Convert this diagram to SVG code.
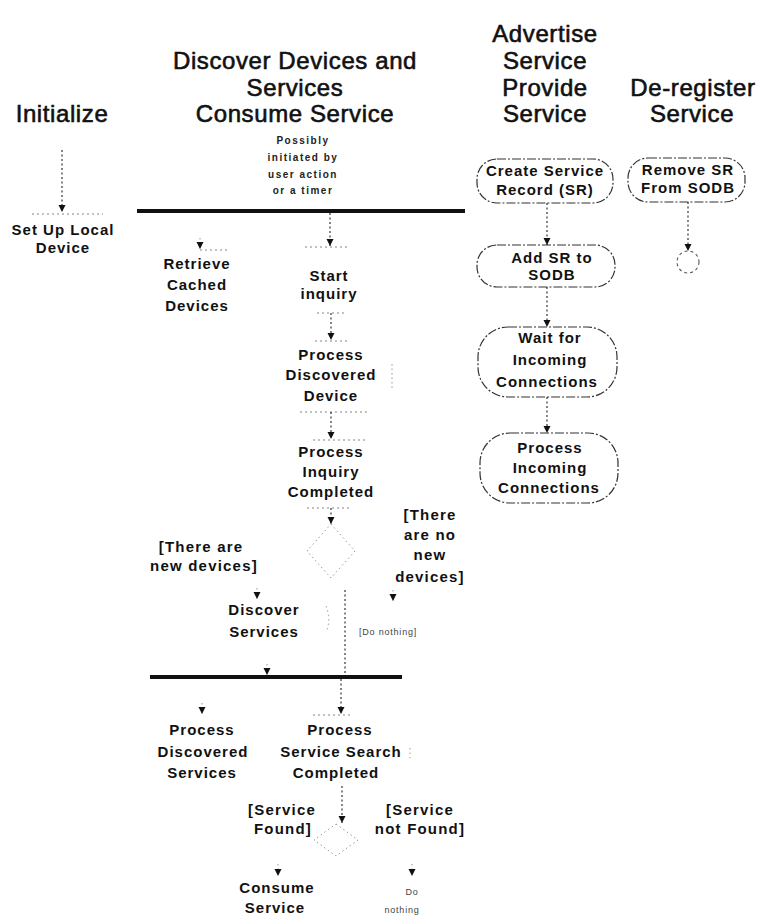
<svg xmlns="http://www.w3.org/2000/svg" width="761" height="920" viewBox="0 0 761 920">
  <style>
    text { font-family: "Liberation Sans", Arial, sans-serif; font-weight: bold; fill: #111; text-anchor: middle; }
    .hdr { font-size: 24px; font-weight: normal; letter-spacing: 0.6px; stroke: #111; stroke-width: 0.6; }
    .node { font-size: 15px; letter-spacing: 1px; }
    .guard { font-size: 15px; letter-spacing: 1.2px; }
    .note { font-size: 10px; letter-spacing: 1.5px; fill: #222; }
    .tiny { font-size: 9px; letter-spacing: 0.8px; fill: #444; font-weight: normal; }
    .flow { fill: none; stroke: #222; stroke-width: 1.1; stroke-dasharray: 2 2.5; }
    .faint { fill: none; stroke: #999; stroke-width: 1; stroke-dasharray: 1.5 3; }
    .edge { fill: none; stroke: #777; stroke-width: 0.9; stroke-dasharray: 2 3; }
    .box { fill: none; stroke: #333; stroke-width: 1.2; stroke-dasharray: 9 2 2 2; }
    .bar { fill: #111; }
  </style>
  <defs>
    <marker id="arrow" markerUnits="userSpaceOnUse" markerWidth="8" markerHeight="8" refX="7" refY="4" orient="auto">
      <path d="M0,0.5 L7,4 L0,7.5 z" fill="#111"/>
    </marker>
  </defs>

  <!-- swimlane headings -->
  <g id="headings">
    <text class="hdr" x="62" y="122">Initialize</text>
    <text class="hdr" x="295" y="69">Discover Devices and</text>
    <text class="hdr" x="295" y="96">Services</text>
    <text class="hdr" x="295" y="122">Consume Service</text>
    <text class="hdr" x="545" y="42">Advertise</text>
    <text class="hdr" x="545" y="69">Service</text>
    <text class="hdr" x="545" y="96">Provide</text>
    <text class="hdr" x="545" y="122">Service</text>
    <text class="hdr" x="693" y="96">De-register</text>
    <text class="hdr" x="692" y="122">Service</text>
  </g>

  <!-- trigger note above the fork -->
  <g id="note-trigger">
    <text class="note" x="303" y="144">Possibly</text>
    <text class="note" x="303" y="161">initiated by</text>
    <text class="note" x="303" y="178">user action</text>
    <text class="note" x="303" y="194">or a timer</text>
  </g>

  <!-- synchronisation bars -->
  <g id="fork-discover"><rect class="bar" x="137" y="209" width="328" height="4"/></g>
  <g id="join-services"><rect class="bar" x="150" y="675" width="252" height="4"/></g>

  <!-- Initialize lane -->
  <g id="node-setup">
    <line class="edge" x1="32" y1="214" x2="103" y2="214"/>
    <text class="node" x="63" y="235">Set Up Local</text>
    <text class="node" x="63" y="253">Device</text>
  </g>

  <!-- Discover lane -->
  <g id="node-retrieve">
    <line class="edge" x1="200" y1="250" x2="228" y2="250"/>
    <text class="node" x="197" y="269">Retrieve</text>
    <text class="node" x="197" y="290">Cached</text>
    <text class="node" x="197" y="311">Devices</text>
  </g>
  <g id="node-start">
    <line class="edge" x1="305" y1="247" x2="350" y2="247"/>
    <text class="node" x="329" y="281">Start</text>
    <text class="node" x="329" y="299">inquiry</text>
    <line class="edge" x1="317" y1="313" x2="347" y2="313"/>
  </g>
  <g id="node-device">
    <line class="edge" x1="315" y1="341" x2="348" y2="341"/>
    <text class="node" x="331" y="360">Process</text>
    <text class="node" x="331" y="380">Discovered</text>
    <text class="node" x="331" y="401">Device</text>
    <line class="edge" x1="300" y1="412" x2="367" y2="412"/>
    <line class="faint" x1="392" y1="364" x2="392" y2="390"/>
  </g>
  <g id="node-inquiry-done">
    <line class="edge" x1="313" y1="440" x2="367" y2="440"/>
    <text class="node" x="331" y="457">Process</text>
    <text class="node" x="331" y="477">Inquiry</text>
    <text class="node" x="331" y="497">Completed</text>
    <line class="edge" x1="307" y1="508" x2="350" y2="508"/>
  </g>
  <g id="decision-devices">
    <path class="faint" d="M331,524 L355,551 L331,578 L307,551 Z"/>
  </g>
  <g id="node-discover-services">
    <text class="node" x="264" y="615">Discover</text>
    <text class="node" x="264" y="637">Services</text>
    <path class="faint" d="M326,606 Q331,618 327,630"/>
  </g>
  <g id="node-do-nothing-1">
    <text class="tiny" x="388" y="635">[Do nothing]</text>
  </g>
  <g id="node-process-services">
    <text class="node" x="202" y="735">Process</text>
    <text class="node" x="203" y="757">Discovered</text>
    <text class="node" x="202" y="778">Services</text>
  </g>
  <g id="node-search-done">
    <line class="edge" x1="313" y1="715" x2="350" y2="715"/>
    <text class="node" x="340" y="735">Process</text>
    <text class="node" x="341" y="757">Service Search</text>
    <text class="node" x="336" y="778">Completed</text>
    <line class="faint" x1="410" y1="748" x2="410" y2="758"/>
  </g>
  <g id="decision-service">
    <path class="faint" d="M336,824 L358,840 L336,856 L314,840 Z"/>
  </g>
  <g id="node-consume">
    <text class="node" x="277" y="893">Consume</text>
    <text class="node" x="275" y="913">Service</text>
  </g>
  <g id="node-do-nothing-2">
    <text class="tiny" x="412" y="895">Do</text>
    <text class="tiny" x="402" y="913">nothing</text>
  </g>

  <!-- guard labels -->
  <g id="guards">
    <text class="guard" x="201" y="552">[There are</text>
    <text class="guard" x="204" y="571">new devices]</text>
    <text class="guard" x="430" y="520">[There</text>
    <text class="guard" x="430" y="540">are no</text>
    <text class="guard" x="430" y="560">new</text>
    <text class="guard" x="430" y="582">devices]</text>
    <text class="guard" x="282" y="815">[Service</text>
    <text class="guard" x="283" y="834">Found]</text>
    <text class="guard" x="420" y="815">[Service</text>
    <text class="guard" x="420" y="834">not Found]</text>
  </g>

  <!-- Advertise / Provide lane -->
  <g id="node-create-sr">
    <rect class="box" x="477" y="159" width="136" height="44" rx="20"/>
    <text class="node" x="545" y="176">Create Service</text>
    <text class="node" x="545" y="195">Record (SR)</text>
  </g>
  <g id="node-add-sr">
    <rect class="box" x="477" y="245" width="138" height="42" rx="20"/>
    <text class="node" x="552" y="263">Add SR to</text>
    <text class="node" x="552" y="280">SODB</text>
  </g>
  <g id="node-wait">
    <rect class="box" x="478" y="327" width="139" height="70" rx="30"/>
    <text class="node" x="550" y="343">Wait for</text>
    <text class="node" x="550" y="365">Incoming</text>
    <text class="node" x="547" y="387">Connections</text>
  </g>
  <g id="node-process-conn">
    <rect class="box" x="480" y="433" width="138" height="70" rx="30"/>
    <text class="node" x="550" y="453">Process</text>
    <text class="node" x="550" y="473">Incoming</text>
    <text class="node" x="549" y="493">Connections</text>
  </g>

  <!-- De-register lane -->
  <g id="node-remove-sr">
    <rect class="box" x="628" y="158" width="117" height="44" rx="20"/>
    <text class="node" x="688" y="175">Remove SR</text>
    <text class="node" x="688" y="193">From SODB</text>
  </g>
  <g id="final-deregister">
    <circle cx="688" cy="262" r="11" fill="none" stroke="#555" stroke-width="1.1" stroke-dasharray="3 3"/>
  </g>

  <!-- control flows -->
  <g id="connectors">
    <line class="flow" x1="62" y1="150" x2="62" y2="212" marker-end="url(#arrow)"/>
    <line class="flow" x1="330" y1="213" x2="330" y2="246" marker-end="url(#arrow)"/>
    <line class="faint" x1="200" y1="238" x2="200" y2="249" marker-end="url(#arrow)"/>
    <line class="flow" x1="331" y1="313" x2="331" y2="340" marker-end="url(#arrow)"/>
    <line class="flow" x1="331" y1="412" x2="331" y2="439" marker-end="url(#arrow)"/>
    <line class="flow" x1="331" y1="508" x2="331" y2="524" marker-end="url(#arrow)"/>
    <line class="faint" x1="257" y1="588" x2="257" y2="599" marker-end="url(#arrow)"/>
    <line class="faint" x1="393" y1="590" x2="393" y2="601" marker-end="url(#arrow)"/>
    <line class="flow" x1="345" y1="590" x2="345" y2="674"/>
    <line class="faint" x1="267" y1="664" x2="267" y2="675" marker-end="url(#arrow)"/>
    <line class="flow" x1="341" y1="679" x2="341" y2="714" marker-end="url(#arrow)"/>
    <line class="faint" x1="202" y1="703" x2="202" y2="714" marker-end="url(#arrow)"/>
    <line class="flow" x1="342" y1="786" x2="342" y2="823" marker-end="url(#arrow)"/>
    <line class="faint" x1="278" y1="864" x2="278" y2="876" marker-end="url(#arrow)"/>
    <line class="faint" x1="412" y1="864" x2="412" y2="876" marker-end="url(#arrow)"/>
    <line class="flow" x1="547" y1="203" x2="547" y2="245" marker-end="url(#arrow)"/>
    <line class="flow" x1="547" y1="287" x2="547" y2="327" marker-end="url(#arrow)"/>
    <line class="flow" x1="547" y1="397" x2="547" y2="433" marker-end="url(#arrow)"/>
    <line class="flow" x1="688" y1="202" x2="688" y2="251" marker-end="url(#arrow)"/>
  </g>
</svg>
